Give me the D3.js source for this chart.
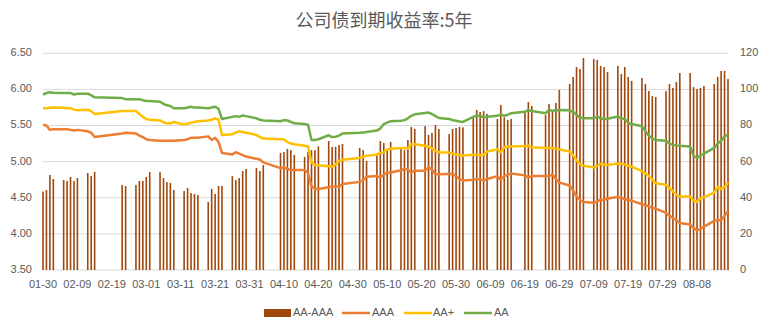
<!DOCTYPE html>
<html><head><meta charset="utf-8">
<script src="https://cdn.jsdelivr.net/npm/d3@7/dist/d3.min.js"></script>
<style>body{margin:0;background:#fff;}svg{display:block;}</style>
</head><body>
<svg id="chart" width="768" height="333"></svg>
<script>
const YEAR = 2018;
const title = "公司债到期收益率:5年";
const dates = ["01-30","01-31","02-01","02-02","02-05","02-06","02-07","02-08","02-09","02-12","02-13","02-14","02-22","02-23","02-26","02-27","02-28",
"03-01","03-02","03-05","03-06","03-07","03-08","03-09","03-12","03-13","03-14","03-15","03-16","03-19","03-20","03-21","03-22","03-23","03-26","03-27","03-28","03-29","03-30",
"04-02","04-03","04-04","04-09","04-10","04-11","04-12","04-13","04-16","04-17","04-18","04-19","04-20","04-23","04-24","04-25","04-26","04-27",
"05-02","05-03","05-04","05-07","05-08","05-09","05-10","05-11","05-14","05-15","05-16","05-17","05-18","05-21","05-22","05-23","05-24","05-25","05-28","05-29","05-30","05-31",
"06-01","06-04","06-05","06-06","06-07","06-08","06-11","06-12","06-13","06-14","06-15","06-19","06-20","06-21","06-25","06-26","06-27","06-28","06-29",
"07-02","07-03","07-04","07-05","07-06","07-09","07-10","07-11","07-12","07-13","07-16","07-17","07-18","07-19","07-20","07-23","07-24","07-25","07-26","07-27","07-30","07-31",
"08-01","08-02","08-03","08-06","08-07","08-08","08-09","08-10","08-13","08-14","08-15","08-16","08-17"];
// AA-AAA spread (bp), right axis
const spread = [43.4,44.3,52.6,50.4,49.8,49.3,51.5,49.3,50.9,53.7,52.0,54.3,47.1,46.5,47.1,49.3,49.3,
51.5,54.3,54.3,50.9,48.7,48.2,44.3,43.7,45.4,42.6,42.1,41.5,37.7,44.9,42.1,46.5,46.5,52.0,49.8,50.9,54.8,55.9,
56.5,54.8,58.1,64.8,65.3,67.0,66.4,63.7,62.6,65.5,66.4,66.4,68.5,71.4,68.1,68.2,69.2,69.8,
67.6,66.4,60.4,63.7,71.4,70.3,66.4,70.9,68.0,66.4,72.0,79.2,78.1,79.7,74.8,75.9,80.3,78.1,75.3,78.1,78.6,79.2,
79.0,85.0,88.6,87.5,88.0,86.4,83.6,91.4,84.5,83.1,83.6,87.5,93.0,90.8,85.8,91.9,88.6,92.5,99.7,
103.0,106.9,112.4,111.3,117.4,116.8,116.3,113.0,112.4,109.6,113.0,108.5,112.4,106.9,104.7,106.3,103.0,99.1,96.3,95.8,99.1,103.0,
100.8,104.1,109.1,109.1,101.3,100.2,100.8,101.9,103.0,106.9,110.2,110.2,105.8];
const aaa = [5.51,5.50,5.44,5.45,5.45,5.45,5.44,5.43,5.44,5.42,5.40,5.34,5.39,5.40,5.39,5.36,5.34,
5.31,5.30,5.29,5.29,5.29,5.29,5.29,5.30,5.31,5.33,5.33,5.33,5.35,5.30,5.33,5.27,5.12,5.10,5.13,5.11,5.09,5.07,
5.04,5.03,4.99,4.91,4.92,4.90,4.885,4.885,4.885,4.84,4.655,4.63,4.62,4.645,4.655,4.655,4.655,4.69,
4.72,4.74,4.79,4.80,4.78,4.82,4.85,4.85,4.88,4.90,4.89,4.85,4.875,4.875,4.92,4.89,4.83,4.825,4.83,4.83,4.80,4.76,
4.74,4.75,4.755,4.755,4.74,4.76,4.80,4.746,4.80,4.82,4.835,4.81,4.78,4.80,4.80,4.80,4.82,4.76,4.71,
4.67,4.60,4.52,4.47,4.44,4.43,4.45,4.47,4.47,4.49,4.51,4.50,4.48,4.47,4.46,4.41,4.40,4.38,4.36,4.35,4.29,4.25,
4.22,4.19,4.15,4.13,4.08,4.05,4.07,4.10,4.18,4.19,4.19,4.25,4.31];
const aaPlus = [5.74,5.74,5.745,5.75,5.745,5.74,5.74,5.72,5.71,5.72,5.70,5.66,5.70,5.70,5.70,5.66,5.62,
5.59,5.58,5.57,5.545,5.53,5.53,5.55,5.515,5.525,5.54,5.55,5.56,5.57,5.58,5.60,5.58,5.37,5.38,5.40,5.42,5.41,5.40,
5.37,5.34,5.32,5.31,5.31,5.27,5.25,5.24,5.22,5.21,4.99,4.955,4.95,4.935,4.925,4.96,5.01,5.025,
5.05,5.07,5.08,5.10,5.12,5.13,5.17,5.18,5.19,5.19,5.18,5.24,5.24,5.22,5.21,5.18,5.15,5.13,5.125,5.11,5.10,5.09,
5.085,5.095,5.095,5.09,5.095,5.14,5.17,5.13,5.20,5.21,5.21,5.215,5.22,5.20,5.19,5.19,5.19,5.18,5.17,
5.14,5.09,5.02,4.97,4.945,4.92,4.94,4.97,4.96,4.955,4.975,4.97,4.96,4.945,4.93,4.87,4.84,4.80,4.75,4.70,4.68,4.635,
4.59,4.54,4.516,4.516,4.46,4.445,4.49,4.51,4.57,4.65,4.62,4.65,4.71];
const aa = [5.93,5.95,5.96,5.955,5.95,5.95,5.95,5.93,5.94,5.94,5.92,5.89,5.88,5.865,5.865,5.865,5.85,
5.84,5.84,5.83,5.80,5.78,5.77,5.74,5.74,5.75,5.76,5.75,5.75,5.74,5.75,5.76,5.73,5.59,5.62,5.63,5.62,5.64,5.63,
5.60,5.58,5.57,5.56,5.575,5.57,5.55,5.53,5.52,5.51,5.30,5.30,5.31,5.365,5.34,5.345,5.36,5.39,
5.40,5.405,5.41,5.43,5.46,5.52,5.54,5.56,5.565,5.575,5.60,5.635,5.655,5.675,5.68,5.66,5.63,5.605,5.59,5.575,5.565,5.555,
5.55,5.62,5.64,5.635,5.615,5.62,5.635,5.655,5.635,5.65,5.67,5.69,5.715,5.70,5.67,5.715,5.705,5.71,5.715,
5.71,5.69,5.65,5.61,5.60,5.60,5.625,5.60,5.59,5.595,5.625,5.60,5.59,5.54,5.52,5.49,5.42,5.36,5.32,5.30,5.29,5.25,
5.235,5.225,5.22,5.21,5.08,5.05,5.085,5.11,5.19,5.25,5.29,5.35,5.37];
const xTickLabels = ["01-30","02-09","02-19","03-01","03-11","03-21","03-31","04-10","04-20","04-30","05-10","05-20","05-30","06-09","06-19","06-29","07-09","07-19","07-29","08-08"];
const leftTicks = [3.5,4.0,4.5,5.0,5.5,6.0,6.5];
const rightTicks = [0,20,40,60,80,100,120];
const xDomainLabels = ["01-30","08-17"];
const seriesNames = ["AA-AAA","AAA","AA+","AA"];
const colors = {"AA-AAA":"#9E480E","AAA":"#ED7D31","AA+":"#FFC000","AA":"#70AD47"};

const parse = s => d3.utcParse("%Y-%m-%d")(`${YEAR}-${s}`);
const svg = d3.select("#chart");
const L = 43, R = 728, T = 53.3, B = 270;
const x = d3.scaleUtc().domain(xDomainLabels.map(parse)).range([L, R]);
const yL = d3.scaleLinear().domain([3.5, 6.5]).range([B, T]);
const yR = d3.scaleLinear().domain([0, 120]).range([B, T]);
const txt = "#595959";
const font = "'Liberation Sans', Arial, sans-serif";

svg.append("text").attr("x", 384).attr("y", 22).attr("text-anchor","middle")
  .attr("dominant-baseline","middle").attr("font-family","'Noto Sans CJK SC', sans-serif")
  .attr("font-size", 18).attr("fill", txt).text(title);

// gridlines
svg.append("g").selectAll("line").data(leftTicks).join("line")
  .attr("x1", L).attr("x2", R).attr("y1", d => yL(d)).attr("y2", d => yL(d))
  .attr("stroke", "#d9d9d9").attr("stroke-width", 1);

// left axis labels
svg.append("g").selectAll("text").data(leftTicks).join("text")
  .attr("x", 32).attr("y", d => yL(d)).attr("text-anchor","end").attr("dominant-baseline","middle")
  .attr("font-family", font).attr("font-size", 11).attr("fill", txt).text(d3.format(".2f"));
// right axis labels
svg.append("g").selectAll("text").data(rightTicks).join("text")
  .attr("x", 740).attr("y", d => yR(d)).attr("text-anchor","start").attr("dominant-baseline","middle")
  .attr("font-family", font).attr("font-size", 11).attr("fill", txt).text(d => d);
// x labels
svg.append("g").selectAll("text").data(xTickLabels).join("text")
  .attr("x", d => x(parse(d))).attr("y", 285).attr("text-anchor","middle").attr("dominant-baseline","middle")
  .attr("font-family", font).attr("font-size", 11).attr("fill", txt).text(d => d);

const rows = dates.map((d, i) => ({date: parse(d), spread: spread[i], aaa: aaa[i], aaPlus: aaPlus[i], aa: aa[i]}));

// bars
svg.append("g").selectAll("rect").data(rows.filter(r => r.spread != null)).join("rect")
  .attr("x", r => x(r.date) - 0.8).attr("width", 1.6)
  .attr("y", r => yR(r.spread)).attr("height", r => B - yR(r.spread))
  .attr("fill", colors["AA-AAA"]);

// lines
const lineDefs = [["aaa","AAA"],["aaPlus","AA+"],["aa","AA"]];
lineDefs.forEach(([k, name]) => {
  const line = d3.line().x(r => x(r.date)).y(r => yL(r[k]));
  svg.append("path").datum(rows).attr("d", line).attr("fill","none")
    .attr("stroke", colors[name]).attr("stroke-width", 2.5).attr("stroke-linejoin","round");
});

// legend
const lg = svg.append("g").attr("font-family", font).attr("font-size", 11).attr("fill", txt);
const legendItems = [
  {name:"AA-AAA", x0:264, tx:293, type:"rect"},
  {name:"AAA", x0:342, tx:372, type:"line"},
  {name:"AA+", x0:404, tx:433, type:"line"},
  {name:"AA", x0:464, tx:494, type:"line"}
];
const ly = 313;
legendItems.forEach(it => {
  if (it.type === "rect") {
    lg.append("rect").attr("x", it.x0).attr("y", ly - 4).attr("width", 27).attr("height", 8).attr("fill", colors[it.name]);
  } else {
    lg.append("line").attr("x1", it.x0).attr("x2", it.x0 + 28).attr("y1", ly).attr("y2", ly)
      .attr("stroke", colors[it.name]).attr("stroke-width", 2.5);
  }
  lg.append("text").attr("x", it.tx).attr("y", ly).attr("dominant-baseline","middle").text(it.name);
});
</script>
</body></html>
